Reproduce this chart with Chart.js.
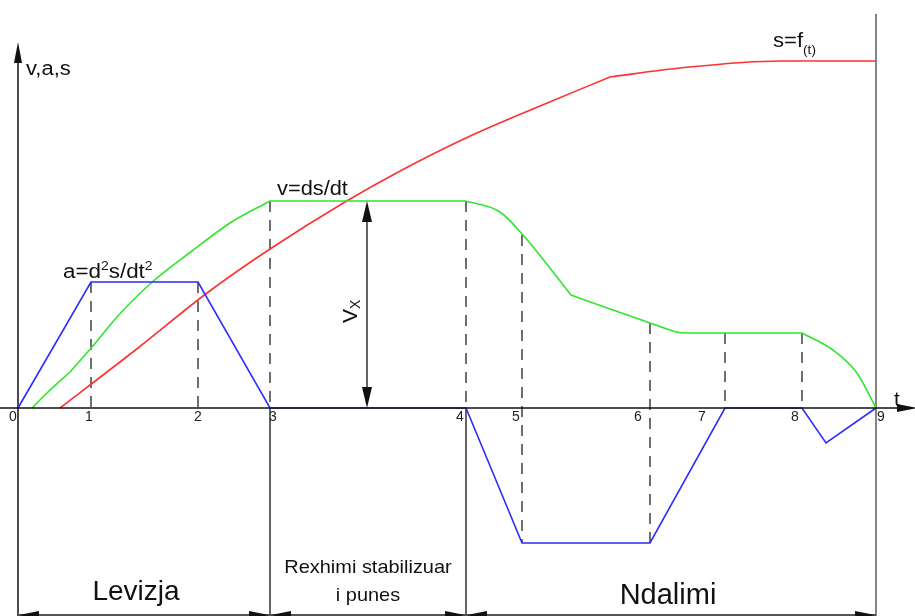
<!DOCTYPE html>
<html>
<head>
<meta charset="utf-8">
<title>v, a, s = f(t)</title>
<script src="https://cdn.jsdelivr.net/npm/chart.js@4.4.1/dist/chart.umd.min.js"></script>
<style>
  html, body { margin: 0; padding: 0; background: #fff; }
  canvas { display: block; }
</style>
</head>
<body>
<canvas id="motion-chart" width="915" height="616"></canvas>
<script>
// t positions of the marked instants 0..9
const tTicks = [0, 73, 180, 252, 448, 504, 632, 707, 784, 858];
const tickLabels = ["0", "1", "2", "3", "4", "5", "6", "7", "8", "9"];

// s = f(t)
const sT = [42, 120, 189, 252, 327, 384, 448, 522, 592, 662, 762, 858];
const sV = [0, 60, 115, 159, 206, 238, 270, 302, 331, 340, 347, 347];
const sBreaks = [0, 8, 11];   // corner of the curve at index 8

// v = ds/dt
const vT = [14, 29, 52, 74, 99, 132, 174, 212, 252, 448, 482, 505, 553, 592, 632, 649, 665, 707, 784, 815, 839, 858];
const vV = [0, 15, 36, 61, 91, 124, 157, 185, 207, 207, 196, 173, 113, 99, 85, 79, 75, 75, 75, 58, 35, 0];
const vBreaks = [0, 2, 8, 9, 12, 14, 17, 18, 21];

// a = d2s/dt2
const aT = [0, 73, 180, 252, 448, 504, 632, 707, 784, 808, 858];
const aV = [0, 126, 126, 0, 0, -135, -135, 0, 0, -35, 0];

// dashed guides at the instants 1..8
const guideT = [73, 180, 252, 448, 504, 632, 707, 784];
const guideTop = [126, 126, 207, 207, 173, 85, 75, 75];
const guideBottom = [0, 0, 0, 0, -135, -135, 0, 0];

// phases along the t axis
const phaseEdges = [0, 252, 448, 858];
const phaseNames = [["Levizja"], ["Rexhimi stabilizuar", "i punes"], ["Ndalimi"]];

const vx = 349;          // t of the Vx dimension arrow
const yTop = 366;        // tip of the vertical axis
const yBottom = -207;    // bottom dimension line

const pts = (xs, ys) => xs.map((x, i) => ({ x: x, y: ys[i] }));

const FONT = '"Liberation Sans", Arial, sans-serif';

function arrowHead(ctx, x, y, dx, dy, len, half) {
    const bx = x - dx * len, by = y - dy * len;
    ctx.beginPath();
    ctx.moveTo(x, y);
    ctx.lineTo(bx - dy * half, by + dx * half);
    ctx.lineTo(bx + dy * half, by - dx * half);
    ctx.closePath();
    ctx.fill();
}

// text with super/subscripts, stretched horizontally by sx
function rich(ctx, parts, x, y, size, sx, align, rot) {
    ctx.save();
    ctx.translate(x, y);
    if (rot) ctx.rotate(rot);
    ctx.scale(sx, 1);
    let w = 0;
    parts.forEach(p => { ctx.font = `${size * p[1]}px ${FONT}`; w += ctx.measureText(p[0]).width; });
    let cx = align === "center" ? -w / 2 : 0;
    ctx.textAlign = "left";
    ctx.textBaseline = "alphabetic";
    parts.forEach(p => {
        ctx.font = `${size * p[1]}px ${FONT}`;
        ctx.fillText(p[0], cx, (p[2] || 0) * size);
        cx += ctx.measureText(p[0]).width;
    });
    ctx.restore();
}

const diagram = {
    id: "diagram",
    beforeDatasetsDraw(chart) {
        const ctx = chart.ctx;
        const xs = chart.scales.x, ys = chart.scales.y;
        const px = v => xs.getPixelForValue(v);
        const py = v => ys.getPixelForValue(v);
        ctx.save();
        ctx.strokeStyle = "#111";
        ctx.fillStyle = "#111";
        ctx.lineWidth = 1.5;

        // vertical axis with arrow
        ctx.beginPath();
        ctx.moveTo(px(0), ys.bottom);
        ctx.lineTo(px(0), py(yTop) + 10);
        ctx.stroke();
        arrowHead(ctx, px(0), py(yTop), 0, -1, 21, 4);

        // phase borders
        ctx.lineWidth = 1.3;
        [tTicks[3], tTicks[4]].forEach(t => {
            ctx.beginPath();
            ctx.moveTo(px(t), py(0));
            ctx.lineTo(px(t), ys.bottom);
            ctx.stroke();
        });
        ctx.strokeStyle = "#666";
        ctx.lineWidth = 1.6;
        ctx.beginPath();
        ctx.moveTo(px(tTicks[9]), ys.bottom);
        ctx.lineTo(px(tTicks[9]), 14);
        ctx.stroke();

        // bottom dimension line
        ctx.strokeStyle = "#555";
        ctx.fillStyle = "#111";
        ctx.lineWidth = 2;
        ctx.beginPath();
        ctx.moveTo(px(phaseEdges[0]), py(yBottom));
        ctx.lineTo(px(phaseEdges[phaseEdges.length - 1]), py(yBottom));
        ctx.stroke();
        for (let i = 0; i < phaseEdges.length - 1; i++) {
            arrowHead(ctx, px(phaseEdges[i]) + 1, py(yBottom), -1, 0, 20, 4);
            arrowHead(ctx, px(phaseEdges[i + 1]) - 1, py(yBottom), 1, 0, 20, 4);
        }

        // Vx dimension arrow
        ctx.strokeStyle = "#111";
        ctx.lineWidth = 1.3;
        const vTop = vV[vT.indexOf(252)];
        ctx.beginPath();
        ctx.moveTo(px(vx), py(vTop) + 10);
        ctx.lineTo(px(vx), py(0) - 10);
        ctx.stroke();
        arrowHead(ctx, px(vx), py(vTop), 0, -1, 21, 5);
        arrowHead(ctx, px(vx), py(0), 0, 1, 21, 5);
        ctx.restore();
    },
    afterDatasetsDraw(chart) {
        const ctx = chart.ctx;
        const xs = chart.scales.x, ys = chart.scales.y;
        const px = v => xs.getPixelForValue(v);
        const py = v => ys.getPixelForValue(v);
        ctx.save();

        // t axis with arrow, on top of the curves
        ctx.strokeStyle = "#111";
        ctx.fillStyle = "#111";
        ctx.lineWidth = 1.5;
        ctx.beginPath();
        ctx.moveTo(xs.left, py(0));
        ctx.lineTo(xs.right - 10, py(0));
        ctx.stroke();
        arrowHead(ctx, xs.right + 2, py(0), 1, 0, 20, 4);

        // instant numbers under the t axis
        const dx = [-5, -2, 0, 3, -6, -6, -12, -23, -7, 5];
        ctx.fillStyle = "#222";
        ctx.font = `14px ${FONT}`;
        ctx.textAlign = "center";
        tickLabels.forEach((lab, i) => ctx.fillText(lab, px(tTicks[i]) + dx[i], py(0) + 13));

        ctx.fillStyle = "#111";
        rich(ctx, [["v,a,s", 1]], 26, 75, 20, 1.1, "left");
        rich(ctx, [["t", 1]], 894, 406, 21, 1, "left");
        rich(ctx, [["a=d", 1], ["2", 0.62, -0.42], ["s/dt", 1], ["2", 0.62, -0.42]], 63, 278, 20, 1.12, "left");
        rich(ctx, [["v=ds/dt", 1]], 277, 195, 20, 1.09, "left");
        rich(ctx, [["s=f", 1], ["(t)", 0.62, 0.32]], 773, 47, 21, 1.05, "left");
        rich(ctx, [["V", 1], ["X", 0.66, 0.12]], 357, 323, 21, 1, "left", -Math.PI / 2);

        // phase names
        const nameStyle = [
            { size: 28, sx: 1, lines: [600], dx: -8 },
            { size: 19, sx: 1.05, lines: [573, 601], dx: 0 },
            { size: 29, sx: 1, lines: [604], dx: -3 }
        ];
        phaseNames.forEach((lines, i) => {
            const st = nameStyle[i];
            const cx = (px(phaseEdges[i]) + px(phaseEdges[i + 1])) / 2 + st.dx;
            lines.forEach((txt, j) => rich(ctx, [[txt, 1]], cx, st.lines[j], st.size, st.sx, "center"));
        });
        ctx.restore();
    }
};

const lineSet = (data, color, width, smooth) => ({
    data: data,
    showLine: true,
    borderColor: color,
    borderWidth: width,
    pointRadius: 0,
    tension: smooth ? 0.4 : 0,
    cubicInterpolationMode: smooth ? "monotone" : "default",
    fill: false
});

// a curve split at its corners, each piece smoothed on its own
const pieces = (xs, ys, breaks, color) => breaks.slice(1).map((end, i) =>
    lineSet(pts(xs.slice(breaks[i], end + 1), ys.slice(breaks[i], end + 1)), color, 1.6, true));

const datasets = [
    lineSet(pts(aT, aV), "#2b2bff", 1.6, false),
    ...pieces(vT, vV, vBreaks, "#2ee62e"),
    ...pieces(sT, sV, sBreaks, "#ff3030")
];
guideT.forEach((t, i) => {
    const g = lineSet([{ x: t, y: guideTop[i] }, { x: t, y: guideBottom[i] }], "#222", 1.3, false);
    g.borderDash = [11, 8];
    datasets.push(g);
});

const chart = new Chart(document.getElementById("motion-chart"), {
    type: "scatter",
    data: { datasets: datasets },
    options: {
        responsive: false,
        animation: false,
        events: [],
        layout: { padding: 0 },
        plugins: { legend: { display: false }, tooltip: { enabled: false } },
        scales: {
            x: { type: "linear", min: -18, max: 897, display: false },
            y: { type: "linear", min: -208, max: 408, display: false }
        }
    },
    plugins: [diagram]
});
</script>
</body>
</html>
